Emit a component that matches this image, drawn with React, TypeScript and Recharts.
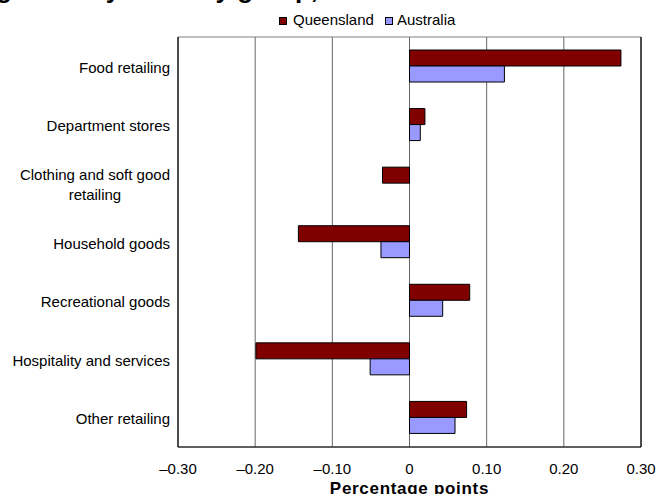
import React from 'react';
import {
  BarChart,
  Bar,
  XAxis,
  YAxis,
  CartesianGrid,
  ReferenceLine,
  ReferenceArea,
} from 'recharts';

const categories = [
  'Food retailing',
  'Department stores',
  'Clothing and soft good retailing',
  'Household goods',
  'Recreational goods',
  'Hospitality and services',
  'Other retailing',
];
const queensland = [0.274, 0.02, -0.035, -0.144, 0.078, -0.199, 0.074];
const australia = [0.123, 0.014, 0, -0.037, 0.043, -0.051, 0.059];
const xTicks = [-0.3, -0.2, -0.1, 0, 0.1, 0.2, 0.3];
const seriesNames = ['Queensland', 'Australia'];

const data = categories.map((name, i) => ({
  name,
  Queensland: queensland[i],
  Australia: australia[i],
}));

const FONT = '"Liberation Sans", Arial, sans-serif';
const QLD_COLOR = '#800000';
const AUS_COLOR = '#9999FF';

let ctx: CanvasRenderingContext2D | null = null;
const measure = (text: string, size: number) => {
  if (!ctx) {
    const c = document.createElement('canvas');
    ctx = c.getContext('2d');
  }
  if (!ctx) return text.length * size * 0.5;
  ctx.font = `${size}px "Liberation Sans", Arial, sans-serif`;
  return ctx.measureText(text).width;
};

const wrap = (label: string, maxW: number, size: number) => {
  const words = label.split(' ');
  const lines: string[] = [];
  let cur = '';
  words.forEach((w) => {
    const t = cur ? cur + ' ' + w : w;
    if (measure(t, size) > maxW && cur) {
      lines.push(cur);
      cur = w;
    } else cur = t;
  });
  if (cur) lines.push(cur);
  return lines;
};

const CategoryTick = (props: any) => {
  const { x, y, payload } = props;
  const size = 15;
  const lines = wrap(String(payload.value), 165, size);
  const w = Math.max(...lines.map((l) => measure(l, size)));
  const cx = x - w / 2;
  const n = lines.length;
  return (
    <g>
      {lines.map((l, i) => (
        <text
          key={i}
          x={cx}
          y={y + 6.5 + (i - (n - 1) / 2) * 20}
          textAnchor="middle"
          fontFamily={FONT}
          fontSize={15}
          fill="#000"
        >
          {l}
        </text>
      ))}
    </g>
  );
};

const fmt = (v: number) => {
  if (Math.abs(v) < 1e-9) return '0';
  const s = Math.abs(v).toFixed(2);
  return v < 0 ? '\u2013' + s : s;
};

const LegendBox = () => (
  <svg width={200} height={20} style={{ position: 'absolute', left: 279, top: 10, display: 'block' }}>
    <rect x={0.5} y={7.5} width={7} height={7} fill={QLD_COLOR} stroke="#000" />
    <text x={14} y={15} fontFamily={FONT} fontSize={15} fill="#000">
      {seriesNames[0]}
    </text>
    <rect x={106.5} y={7.5} width={7} height={7} fill={AUS_COLOR} stroke="#000" />
    <text x={118} y={15} fontFamily={FONT} fontSize={15} fill="#000">
      {seriesNames[1]}
    </text>
  </svg>
);

export default function App() {
  return (
    <div style={{ position: 'absolute', left: 0, top: 0, width: 672, height: 494, background: '#fff' }}>
      <svg
        width={672}
        height={20}
        style={{ position: 'absolute', left: 0, top: 0, overflow: 'hidden' }}
      >
        <text x={-4} y={-2} fontFamily={FONT} fontWeight="bold" fontSize={26} fill="#000">
          growth by industry group,
        </text>
      </svg>
      <BarChart
        width={672}
        height={494}
        data={data}
        layout="vertical"
        margin={{ top: 37, right: 31, bottom: 17, left: 0 }}
        barGap={0}
        barSize={16}
      >
        <CartesianGrid horizontal={false} vertical={true} stroke="#666" />
        <ReferenceArea x1={-0.3} x2={0.3} fill="none" stroke="#808080" ifOverflow="extendDomain" />
        <XAxis
          type="number"
          domain={[-0.3, 0.3]}
          ticks={xTicks}
          tickFormatter={fmt}
          axisLine={{ stroke: '#000' }}
          tickLine={false}
          tickSize={0}
          tickMargin={16}
          tick={{ fontFamily: FONT, fontSize: 15, fill: '#000' }}
          height={30}
          interval={0}
          label={{
            value: 'Percentage points',
            position: 'bottom',
            offset: 5,
            style: { fontFamily: FONT, fontSize: 17, fontWeight: 'bold', fill: '#000', letterSpacing: 0.7 },
          }}
        />
        <YAxis
          type="category"
          dataKey="name"
          width={178}
          axisLine={{ stroke: '#000' }}
          tickLine={false}
          tickSize={0}
          tickMargin={8}
          interval={0}
          tick={<CategoryTick />}
        />
        <ReferenceLine x={0.3} stroke="#000" />
        <Bar dataKey="Queensland" fill={QLD_COLOR} stroke="#000" strokeWidth={1} isAnimationActive={false} />
        <Bar dataKey="Australia" fill={AUS_COLOR} stroke="#000" strokeWidth={1} isAnimationActive={false} />
      </BarChart>
      <LegendBox />
    </div>
  );
}
